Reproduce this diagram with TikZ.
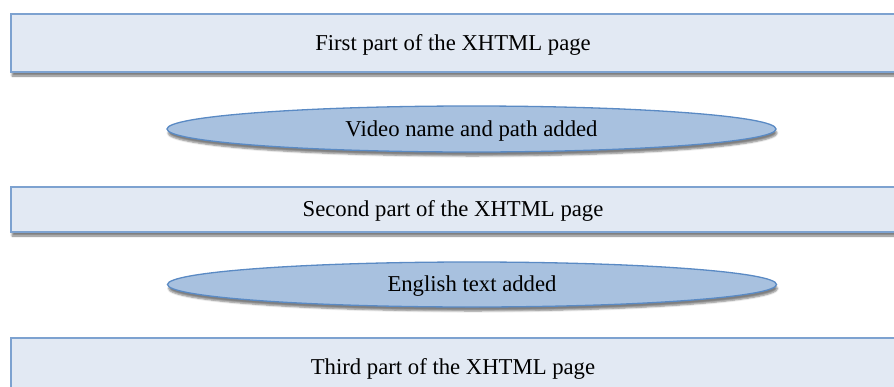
\documentclass[tikz,border=0pt]{standalone}
\usepackage{fontspec}
\setmainfont{Liberation Serif}
\usetikzlibrary{shapes.geometric,shadows.blur}
\definecolor{partfill}{HTML}{E2E9F3}
\definecolor{partline}{HTML}{7DA2D0}
\definecolor{addfill}{HTML}{A8C1DF}
\definecolor{addline}{HTML}{5A8AC4}

\begin{document}
\begin{tikzpicture}[x=1pt,y=-1pt,
    part/.style={draw=partline, line width=2pt, fill=partfill, minimum width=884pt,
        minimum height=58pt, inner sep=0pt, text depth=1pt, font=\fontsize{22.7}{26}\selectfont,
        blur shadow={shadow xshift=1pt, shadow yshift=-4pt, shadow opacity=50, shadow blur steps=5}},
    added/.style={ellipse, draw=addline, line width=1.3pt, fill=addfill, minimum width=609pt,
        minimum height=46pt, inner sep=0pt, text depth=1pt, font=\fontsize{22.7}{26}\selectfont,
        blur shadow={shadow xshift=1pt, shadow yshift=-4pt, shadow opacity=50, shadow blur steps=5}}]
    \useasboundingbox (0,0) rectangle (894,386);

    % page parts
    \node[part] (first) at (453,43) {First part of the XHTML page};
    \node[part, minimum height=45pt] (second) at (453,209.5) {Second part of the XHTML page};
    \node[part] (third) at (453,367) {Third part of the XHTML page};

    % what goes in between
    \node[added] (video) at (471.5,129) {Video name and path added};
    \node[added, minimum height=45pt] (english) at (472,284.5) {English text added};

\end{tikzpicture}
\end{document}
